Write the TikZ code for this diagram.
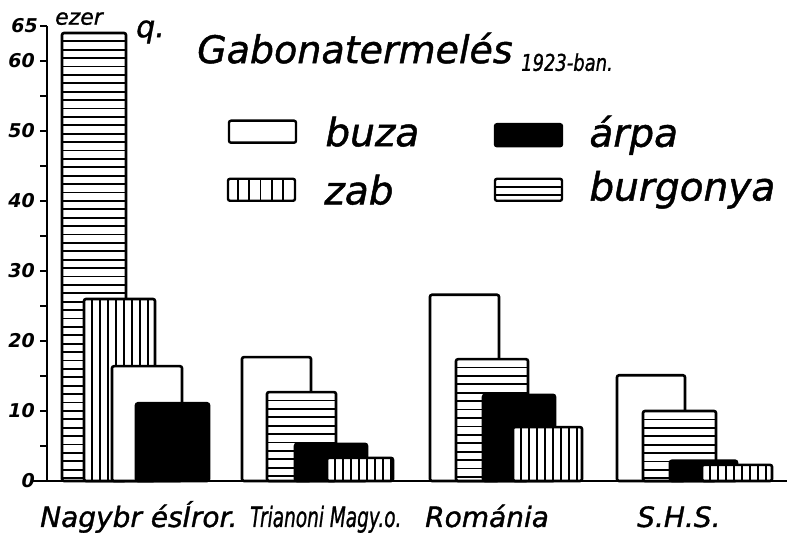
\documentclass[tikz,border=0pt]{standalone}
\usepackage{fontspec}
\usepackage{graphicx}
\setmainfont{DejaVu Sans}
\newfontfamily\handfont[FakeBold = 1.2]{DejaVu Sans}
\usetikzlibrary{positioning}

\tikzset{
  barline/.style = {line width = 2.6pt, rounded corners = 2pt},
  hatch/.style = {line width = 1.8pt},
  legbox/.style = {draw, line width = 2.4pt, rounded corners = 2pt, minimum width = 67pt, minimum height = 22pt, inner sep = 0pt},
  legtext/.style = {font = \handfont\fontsize{39}{42}\selectfont\itshape, inner sep = 0pt},
  cntry/.style = {font = \handfont\fontsize{28}{32}\selectfont\itshape, anchor = base west, inner sep = 0pt},
  axisnum/.style = {font = \fontsize{19}{21}\selectfont\bfseries\itshape, anchor = east, inner sep = 0pt}
}

\newcommand{\whitebar}[3]{\draw[barline, fill = white] (#1,0) rectangle (#2,#3);}
\newcommand{\blackbar}[3]{\draw[barline, fill = black] (#1,0) rectangle (#2,#3);}
\newcommand{\hlinebar}[3]{%
  \begin{scope}
    \fill[white, rounded corners = 2pt] (#1,0) rectangle (#2,#3);
    \clip[rounded corners = 2pt] (#1,0) rectangle (#2,#3);
    \foreach \yy in {1.2,2.4,...,66} \draw[hatch] (#1,#3-\yy) -- (#2,#3-\yy);
  \end{scope}
  \draw[barline] (#1,0) rectangle (#2,#3);}
\newcommand{\vlinebar}[3]{%
  \begin{scope}
    \fill[white, rounded corners = 2pt] (#1,0) rectangle (#2,#3);
    \clip[rounded corners = 2pt] (#1,0) rectangle (#2,#3);
    \foreach \xx in {8,16,...,120} \draw[hatch] ({#1+\xx},0) -- ({#1+\xx},#3);
  \end{scope}
  \draw[barline] (#1,0) rectangle (#2,#3);}

\begin{document}
\begin{tikzpicture}[x = 1pt, y = 7pt]
\useasboundingbox (0,-7.714) rectangle (787,68.714);

\node[anchor = base west, inner sep = 0pt, font = \handfont\fontsize{38}{42}\selectfont\itshape] (title) at (197,59.7) {Gabonatermelés};
\node[anchor = base west, inner sep = 0pt, font = \handfont\fontsize{23}{26}\selectfont\itshape] (year) at (521,58.6) {\scalebox{0.78}[1]{1923-ban.}};

\node[legbox, fill = white] (buzakey) at (262.5,49.9) {};
\node[legbox, fill = white] (zabkey) at (261.5,41.6) {};
\node[legbox, fill = black] (arpakey) at (528.5,49.4) {};
\node[legbox, fill = white] (burgkey) at (528.5,41.6) {};
\foreach \i in {1,...,5} \draw[hatch] ([xshift = \i*11.2pt]zabkey.south west) -- ([xshift = \i*11.2pt]zabkey.north west);
\foreach \i in {1,2} \draw[hatch] ([yshift = \i*7.3pt]burgkey.south west) -- ([yshift = \i*7.3pt]burgkey.south east);
\node[legtext, right = 28pt of buzakey] (buzatext) {buza};
\node[legtext, right = 28pt of zabkey] (zabtext) {zab};
\node[legtext, right = 26pt of arpakey] (arpatext) {árpa};
\node[legtext, right = 26pt of burgkey] (burgtext) {burgonya};

\hlinebar{62}{126}{64}
\vlinebar{84}{155}{26}
\whitebar{112}{182}{16.4}
\blackbar{136}{209}{11.1}

\whitebar{242}{311}{17.7}
\hlinebar{267}{336}{12.7}
\blackbar{295}{367}{5.3}
\vlinebar{327}{393}{3.3}

\whitebar{430}{499}{26.6}
\hlinebar{456}{528}{17.4}
\blackbar{483}{555}{12.3}
\vlinebar{513}{582}{7.7}

\whitebar{617}{685}{15.1}
\hlinebar{643}{716}{10}
\blackbar{670}{737}{2.9}
\vlinebar{702}{772}{2.3}

\draw[line width = 2.6pt] (47,0) -- (47,65);
\foreach \v in {5,10,...,65} \draw[line width = 2pt] (40,\v) -- (47,\v);
\foreach \v in {0,10,...,60} \node[axisnum] (n\v) at (35,\v) {\v};
\node[axisnum] (n65) at (38,65) {65};
\draw[line width = 2.8pt] (33,0) -- (787,0);
\node[anchor = base west, inner sep = 0pt, font = \handfont\fontsize{22}{24}\selectfont\itshape] (unit) at (55,65.2) {ezer};
\node[anchor = base west, inner sep = 0pt, font = \handfont\fontsize{30}{32}\selectfont\itshape] (quint) at (136,63.4) {q.};

\node[cntry] (nagybr) at (40,-6.57) {Nagybr ésÍror.};
\node[cntry] (trianon) at (250,-6.57) {\scalebox{0.66}[1]{Trianoni Magy.o.}};
\node[cntry] (romania) at (425,-6.57) {Románia};
\node[cntry] (shs) at (637,-6.57) {S.H.S.};
\end{tikzpicture}
\end{document}
